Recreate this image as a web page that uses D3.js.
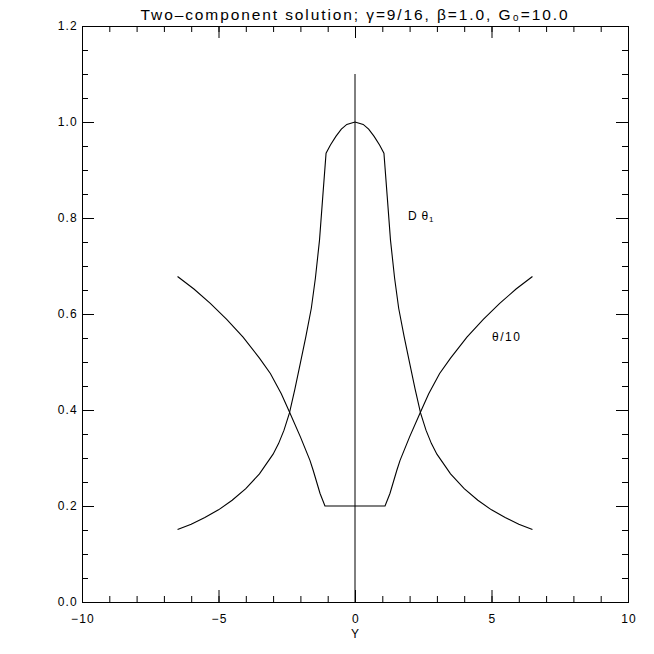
<!DOCTYPE html>
<html><head><meta charset="utf-8">
<script src="https://cdn.jsdelivr.net/npm/d3@7"></script>
<style>body{margin:0;background:#fff}svg{display:block}text{font-family:"Liberation Sans",Arial,sans-serif;fill:#000}</style>
</head><body><svg id="c" width="654" height="654"></svg>
<script>
const titleText = "Two\u2013component solution; \u03b3=9/16, \u03b2=1.0, G\u2080=10.0";
const xLabel = "Y";
const xTicks = [-10, -5, 0, 5, 10];
const yTicks = [0.0, 0.2, 0.4, 0.6, 0.8, 1.0, 1.2];
const xDomain = [-10, 10];
const yDomain = [0, 1.2];

// D*theta_1 curve
const dX = [-6.5,-6.0,-5.5,-5.0,-4.5,-4.0,-3.5,-3.0,-2.8,-2.6,-2.4,-2.2,-2.0,-1.8,-1.6,-1.45,-1.3,-1.18,-1.1,-1.06,-0.9,-0.7,-0.5,-0.3,0,
             0.3,0.5,0.7,0.9,1.06,1.1,1.18,1.3,1.45,1.6,1.8,2.0,2.2,2.4,2.6,2.8,3.0,3.5,4.0,4.5,5.0,5.5,6.0,6.5];
const dY = [0.151,0.162,0.176,0.192,0.212,0.236,0.267,0.308,0.330,0.358,0.394,0.444,0.498,0.553,0.612,0.675,0.754,0.845,0.905,0.935,0.952,0.970,0.985,0.995,1.000,
            0.995,0.985,0.970,0.952,0.935,0.905,0.845,0.754,0.675,0.612,0.553,0.498,0.444,0.394,0.358,0.330,0.308,0.267,0.236,0.212,0.192,0.176,0.162,0.151];

// theta/10 curve
const tX = [-6.5,-5.9,-5.3,-4.7,-4.1,-3.5,-3.1,-2.7,-2.4,-2.0,-1.65,-1.53,-1.28,-1.1,0,
            1.1,1.28,1.53,1.65,2.0,2.4,2.7,3.1,3.5,4.1,4.7,5.3,5.9,6.5];
const tY = [0.678,0.652,0.622,0.589,0.552,0.508,0.476,0.434,0.396,0.344,0.295,0.274,0.226,0.200,0.200,
            0.200,0.226,0.274,0.295,0.344,0.396,0.434,0.476,0.508,0.552,0.589,0.622,0.652,0.678];

const vLineX = [0, 0];
const vLineY = [0, 1.1];

const svg = d3.select("#c");
const m = {l:82, r:26, t:26, b:52};
const W = 654, H = 654;
const x = d3.scaleLinear().domain(xDomain).range([m.l, W - m.r]);
const y = d3.scaleLinear().domain(yDomain).range([H - m.b, m.t]);

const g = svg.append("g");
const line = d3.line().x(d => x(d[0])).y(d => y(d[1]));

g.append("path").datum(dX.map((v,i)=>[v,dY[i]])).attr("d", line).attr("fill","none").attr("stroke","#000").attr("stroke-width",1.1);
g.append("path").datum(tX.map((v,i)=>[v,tY[i]])).attr("d", line).attr("fill","none").attr("stroke","#000").attr("stroke-width",1.1);
g.append("path").datum(vLineX.map((v,i)=>[v,vLineY[i]])).attr("d", line).attr("fill","none").attr("stroke","#000").attr("stroke-width",1);

const xMinor = d3.range(-10, 10.001, 1);
const yMinor = d3.range(0, 1.2001, 0.05);

const axB = svg.append("g").attr("transform", `translate(0,${H-m.b})`);
axB.call(d3.axisTop(x).tickValues(xMinor).tickSize(6).tickFormat(""));
axB.append("g").call(d3.axisTop(x).tickValues(xTicks).tickSize(12).tickFormat(""));
const axT = svg.append("g").attr("transform", `translate(0,${m.t})`);
axT.call(d3.axisBottom(x).tickValues(xMinor).tickSize(6).tickFormat(""));
axT.append("g").call(d3.axisBottom(x).tickValues(xTicks).tickSize(12).tickFormat(""));
const axL = svg.append("g").attr("transform", `translate(${m.l},0)`);
axL.call(d3.axisRight(y).tickValues(yMinor).tickSize(6).tickFormat(""));
axL.append("g").call(d3.axisRight(y).tickValues(yTicks).tickSize(12).tickFormat(""));
const axR = svg.append("g").attr("transform", `translate(${W-m.r},0)`);
axR.call(d3.axisLeft(y).tickValues(yMinor).tickSize(6).tickFormat(""));
axR.append("g").call(d3.axisLeft(y).tickValues(yTicks).tickSize(12).tickFormat(""));
svg.selectAll(".domain").attr("stroke","#000");
svg.selectAll(".tick line").attr("stroke","#000");

// tick labels
svg.append("g").selectAll("text").data(xTicks).join("text")
  .attr("x", d => x(d) + 1).attr("y", H - m.b + 21).attr("text-anchor","middle").attr("font-size", 12).attr("letter-spacing", 1.2)
  .text(d => String(d).replace("-","\u2212"));
svg.append("g").selectAll("text").data(yTicks).join("text")
  .attr("x", m.l - 4).attr("y", d => y(d) + 4).attr("text-anchor","end").attr("font-size", 12).attr("letter-spacing", 1.2)
  .text(d => d3.format(".1f")(d));

svg.append("text").attr("x", x(0)).attr("y", H - m.b + 36).attr("text-anchor","middle").attr("font-size", 12).text(xLabel);

svg.append("text").attr("x", (m.l + W - m.r)/2).attr("y", 20).attr("text-anchor","middle").attr("font-size", 15.5).attr("letter-spacing", 1.9).text(titleText);

// curve labels
const l1 = svg.append("text").attr("x", 408).attr("y", 220).attr("font-size", 12).attr("letter-spacing", 0.8);
l1.append("tspan").text("D  \u03b8");
l1.append("tspan").attr("font-size", 8).attr("dy", 2).text("1");
svg.append("text").attr("x", 492).attr("y", 341).attr("font-size", 12).attr("letter-spacing", 1.5).text("\u03b8/10");
</script></body></html>
